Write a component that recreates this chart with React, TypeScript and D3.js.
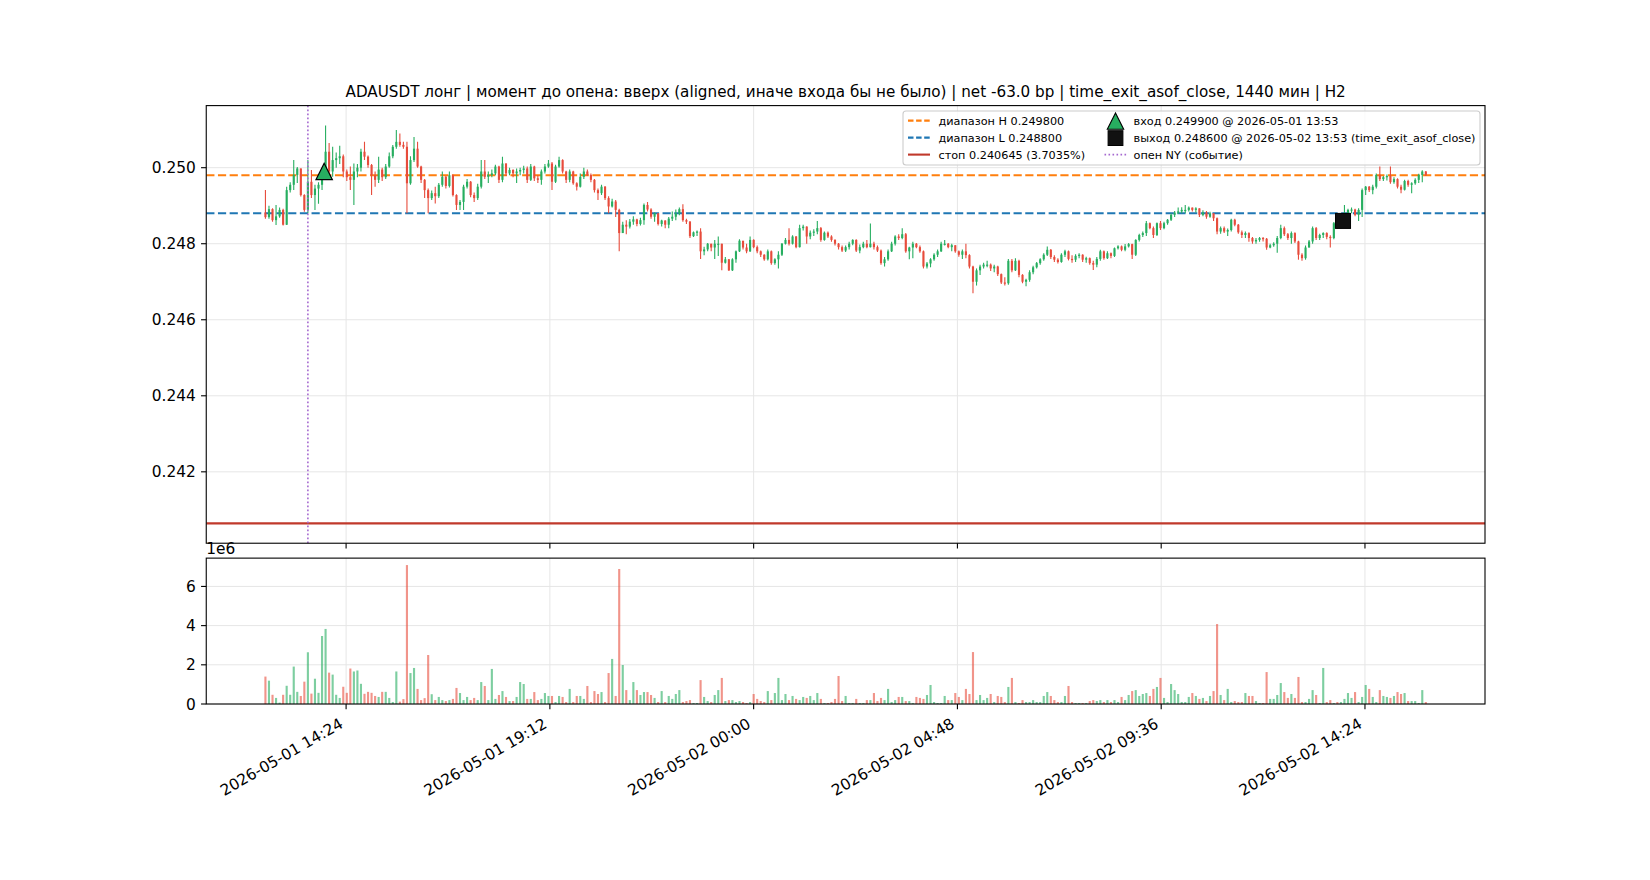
import React from "react";
import * as d3 from "d3";

// ---------- data ----------
const START = "2026-05-01T12:30:00Z";
const STEP_MIN = 5;
const BASE = 0.24; // price = BASE + v * UNIT
const UNIT = 1e-5;
const OPEN0 = 882;

const CLOSE = [
  870,891,862,872,889,850,941,955,981,998,
  928,889,963,928,945,955,990,1042,990,1020,
  1025,1030,990,975,968,990,1000,1042,1029,1007,
  980,968,995,975,1003,1030,1055,1068,1060,1055,
  959,1020,1050,1003,968,941,920,933,925,955,
  976,952,980,928,902,910,950,963,928,920,
  950,990,976,981,985,1003,968,1011,985,994,
  985,990,994,998,968,1003,972,968,990,1003,
  1011,963,1003,1020,990,968,990,959,950,976,
  990,981,968,941,933,950,920,898,911,889,
  828,850,845,858,864,852,862,902,890,871,
  880,852,861,850,866,871,880,891,862,858,
  820,830,832,780,785,800,790,800,800,750,
  759,730,759,780,808,790,780,810,791,780,
  771,759,780,749,759,771,800,810,800,819,
  791,841,845,819,829,832,841,810,829,819,
  810,800,791,782,791,800,810,782,791,800,
  791,800,791,782,749,759,780,800,819,815,
  825,780,790,800,791,780,740,748,759,771,
  780,800,800,791,796,780,771,780,770,740,
  700,730,740,745,745,735,740,720,698,696,
  755,730,755,718,700,705,725,738,749,759,
  771,784,765,758,752,771,780,760,758,768,
  771,758,762,749,745,760,780,762,775,768,
  788,793,784,793,799,771,810,823,828,854,
  841,823,854,841,854,863,876,882,885,889,
  889,895,889,893,876,882,871,880,867,832,
  841,832,836,863,850,830,823,828,815,806,
  810,815,813,790,796,800,815,841,825,815,
  828,806,771,762,790,806,841,815,823,828,
  818,815,854,845,871,880,889,890,876,889,
  941,950,941,950,981,970,975,978,962,970,
  950,942,965,955,959,968,981,990,981,
];

const HIGH = [
  941,900,893,902,895,892,950,962,1020,1002,
  998,930,1020,994,955,962,995,1111,1065,1055,
  1040,1058,1035,995,1003,1011,1010,1050,1068,1032,
  1010,990,1029,1000,1010,1040,1060,1099,1090,1068,
  1068,1030,1081,1068,1005,970,945,940,950,960,
  990,978,990,982,930,915,955,970,965,935,
  958,1020,1020,990,995,1008,1005,1029,1012,1000,
  996,998,1000,1005,1003,1010,1005,980,995,1010,
  1020,1015,1008,1029,1022,992,995,992,962,985,
  1000,995,985,970,945,955,952,925,918,915,
  892,858,862,865,872,866,868,906,910,893,
  882,880,863,862,870,885,890,895,904,866,
  860,832,835,841,792,802,800,810,819,800,
  765,760,762,782,812,806,800,819,812,795,
  782,772,785,782,762,780,802,815,841,822,
  820,850,850,846,835,838,860,844,832,832,
  822,812,802,795,795,805,812,812,798,805,
  810,853,805,795,785,765,785,805,822,825,
  841,828,792,805,802,795,782,752,762,775,
  785,805,810,802,800,796,782,785,800,772,
  742,735,745,750,755,748,745,742,722,712,
  760,760,762,758,720,708,730,742,752,762,
  775,793,786,770,762,775,784,782,770,772,
  775,772,766,764,755,765,784,782,780,777,
  790,796,795,799,802,800,812,826,832,860,
  856,845,856,860,858,865,880,886,895,896,
  902,898,895,896,893,888,886,884,880,869,
  845,845,840,866,866,852,835,832,830,818,
  815,818,818,815,800,804,820,850,845,828,
  832,830,808,775,795,810,845,844,826,830,
  830,822,857,858,874,902,892,895,892,893,
  945,952,952,955,985,1003,978,982,1003,975,
  972,955,968,968,962,972,984,993,991,
];

const LOW = [
  866,866,858,849,868,848,849,935,941,960,
  924,884,880,920,889,905,941,985,980,976,
  1000,1010,975,965,941,902,975,990,1020,1000,
  928,950,960,965,970,1000,1025,1050,1055,1050,
  880,955,1015,1000,960,920,880,915,906,920,
  950,945,948,924,889,889,889,945,922,910,
  915,945,970,960,975,980,960,962,978,980,
  975,960,980,985,960,965,965,960,955,985,
  1000,941,960,1000,985,960,962,955,940,948,
  970,978,962,935,915,928,915,880,895,870,
  780,830,825,840,850,846,848,850,885,866,
  858,848,845,841,841,860,862,875,858,852,
  815,818,820,760,770,780,780,760,768,730,
  748,728,728,750,778,785,775,778,788,775,
  765,755,756,745,745,735,768,798,795,798,
  788,790,835,800,812,820,825,805,808,815,
  805,795,785,778,778,785,796,778,775,788,
  788,790,785,778,745,740,755,778,795,810,
  812,776,759,762,788,776,735,735,738,755,
  765,778,795,788,780,776,766,760,762,735,
  670,690,718,735,738,728,725,715,694,690,
  692,725,728,712,696,688,700,720,735,745,
  755,768,760,752,748,750,765,756,750,752,
  762,752,750,745,731,738,755,758,760,762,
  765,785,780,780,790,760,768,806,818,820,
  838,815,820,836,838,850,860,870,878,880,
  880,885,885,882,870,872,866,868,860,825,
  826,828,820,832,846,826,815,815,805,800,
  800,805,806,784,788,792,776,812,820,810,
  800,802,758,755,758,790,800,810,810,815,
  812,790,812,840,840,860,870,880,872,860,
  870,928,936,930,945,965,965,966,958,958,
  945,933,940,950,933,955,960,962,978,
];

// volume in millions
const VOLUME = [
  1.40,1.19,0.47,0.31,0.07,0.47,0.93,0.47,1.91,0.62,
  0.41,1.14,2.64,0.53,1.29,0.57,3.47,3.83,1.60,1.50,
  0.47,0.31,0.88,0.57,1.81,1.66,1.71,1.03,0.52,0.62,
  0.57,0.41,0.36,0.62,0.62,0.31,0.10,1.66,0.12,0.25,
  7.09,1.58,1.84,0.77,0.20,0.30,2.50,0.50,0.20,0.36,
  0.20,0.15,0.20,0.26,0.82,0.56,0.20,0.36,0.20,0.31,
  0.20,1.12,0.92,0.20,1.79,0.26,0.46,0.66,0.36,0.15,
  0.15,0.36,1.12,1.02,0.26,0.26,0.61,0.20,0.26,0.56,
  0.41,0.41,0.10,0.41,0.36,0.10,0.77,0.10,0.41,0.41,
  0.26,0.92,0.10,0.66,0.51,0.61,0.10,1.58,2.30,0.41,
  6.89,1.99,0.71,0.20,1.12,0.71,0.46,0.61,0.61,0.46,
  0.31,0.10,0.66,0.10,0.41,0.26,0.51,0.71,0.10,0.15,
  0.20,0.05,0.05,1.22,0.36,0.15,0.10,0.46,0.71,1.33,
  0.15,0.20,0.20,0.10,0.15,0.10,0.05,0.10,0.51,0.26,
  0.15,0.10,0.66,0.20,0.56,1.33,0.20,0.51,0.20,0.41,
  0.26,0.20,0.36,0.31,0.41,0.20,0.56,0.26,0.05,0.05,
  0.10,0.26,1.43,0.15,0.41,0.05,0.05,0.26,0.05,0.05,
  0.20,0.20,0.56,0.15,0.31,0.20,0.77,0.10,0.20,0.36,
  0.36,0.15,0.15,0.05,0.36,0.31,0.26,0.46,0.97,0.10,
  0.05,0.05,0.41,0.20,0.20,0.56,0.36,0.20,0.77,0.51,
  2.65,0.20,0.46,0.20,0.31,0.51,0.10,0.41,0.36,0.10,
  0.87,1.33,0.10,0.05,0.20,0.10,0.10,0.20,0.10,0.10,
  0.41,0.61,0.41,0.20,0.10,0.10,0.41,0.92,0.10,0.05,
  0.05,0.05,0.05,0.15,0.20,0.15,0.20,0.10,0.20,0.10,
  0.20,0.10,0.36,0.20,0.46,0.66,0.71,0.41,0.51,0.56,
  0.41,0.77,0.87,1.33,0.31,0.10,1.02,0.71,0.51,0.10,
  0.10,0.36,0.56,0.41,0.26,0.31,0.15,0.41,0.66,4.08,
  0.46,0.20,0.77,0.10,0.15,0.10,0.10,0.56,0.41,0.41,
  0.15,0.05,0.05,1.63,0.26,0.26,0.46,1.07,0.61,0.31,
  0.51,0.31,1.38,0.10,0.10,0.26,0.71,0.46,0.05,1.84,
  0.10,0.20,0.05,0.10,0.10,0.26,0.56,0.31,0.61,0.10,
  0.36,0.97,0.77,0.36,0.10,0.71,0.41,0.36,0.31,0.41,
  0.61,0.51,0.56,0.15,0.15,0.15,0.05,0.71,0.10,
];

const X_TICKS = [
  "2026-05-01T14:24:00Z",
  "2026-05-01T19:12:00Z",
  "2026-05-02T00:00:00Z",
  "2026-05-02T04:48:00Z",
  "2026-05-02T09:36:00Z",
  "2026-05-02T14:24:00Z",
];
const Y_TICKS = [0.242, 0.244, 0.246, 0.248, 0.25];
const VOL_TICKS = [0, 2, 4, 6];

const LEVEL_H = 0.2498;
const LEVEL_L = 0.2488;
const STOP = 0.240645;
const ENTRY_T = "2026-05-01T13:53:00Z";
const ENTRY_P = 0.2499;
const EXIT_T = "2026-05-02T13:53:00Z";
const EXIT_P = 0.2486;
const NY_OPEN_T = "2026-05-01T13:30:00Z";

const TITLE =
  "ADAUSDT лонг | момент до опена: вверх (aligned, иначе входа бы не было) | net -63.0 bp | time_exit_asof_close, 1440 мин | H2";

const LEGEND_LEFT = [
  { label: "диапазон H 0.249800", kind: "dash", color: "#ff7f0e" },
  { label: "диапазон L 0.248800", kind: "dash", color: "#1f77b4" },
  { label: "стоп 0.240645 (3.7035%)", kind: "solid", color: "#c0392b" },
];
const LEGEND_RIGHT = [
  { label: "вход 0.249900 @ 2026-05-01 13:53", kind: "tri", color: "#27ae60" },
  { label: "выход 0.248600 @ 2026-05-02 13:53 (time_exit_asof_close)", kind: "sq", color: "#111111" },
  { label: "опен NY (событие)", kind: "dot", color: "#a569d0" },
];

// ---------- styles ----------
const UP = "#27ae60";
const DOWN = "#e74c3c";
const FONT = "DejaVu Sans, sans-serif";
const GRID = "#e6e6e6";

export default function App() {
  const W = 1650, H = 880;
  const L = 206.25, R = 1485;
  const T1 = 105.6, B2 = 704;
  const gap = 14.9;
  const mainH = (B2 - T1 - gap) * 0.75;
  const B1 = T1 + mainH;
  const T2 = B1 + gap;

  const stepMs = STEP_MIN * 60000;
  const t0 = new Date(START).getTime();
  const price = (v: number) => BASE + v * UNIT;

  const candles = CLOSE.map((c, i) => {
    const o = i === 0 ? OPEN0 : CLOSE[i - 1];
    return {
      t: new Date(t0 + i * stepMs),
      o: price(o),
      c: price(c),
      h: price(HIGH[i]),
      l: price(LOW[i]),
      v: VOLUME[i],
      up: c >= o,
    };
  });

  const n = candles.length;
  const barW = 0.6 * stepMs;
  const span = (n - 1) * stepMs + barW;
  const pad = 0.05 * span + barW / 2;
  const x = d3
    .scaleUtc()
    .domain([new Date(t0 - pad), new Date(t0 + (n - 1) * stepMs + pad)])
    .range([L, R]);

  const lo = Math.min(STOP, d3.min(candles, (d) => d.l) as number);
  const hi = d3.max(candles, (d) => d.h) as number;
  const r = hi - lo;
  const y = d3.scaleLinear().domain([lo - 0.05 * r, hi + 0.05 * r]).range([B1, T1]);

  const vmax = d3.max(candles, (d) => d.v) as number;
  const yv = d3.scaleLinear().domain([0, vmax * 1.05]).range([B2, T2]);

  const bw = x(new Date(t0 + barW)) - x(new Date(t0));
  const fmtX = d3.utcFormat("%Y-%m-%d %H:%M");
  const fmtY = d3.format(".3f");
  const xTicks = X_TICKS.map((s) => new Date(s));

  const tickLen = 5.2;
  const tickPad = 5.2;
  const fs = 15.4;
  const tfs = 15.2;
  const lfs = 11.25;

  const tri = (cx: number, cy: number, s: number) =>
    `M${cx},${cy - s} L${cx - s},${cy + s} L${cx + s},${cy + s} Z`;

  // legend layout
  const lgX0 = 903, lgY0 = 111, lgX1 = 1480, lgY1 = 165;
  const rows = [120.6, 137.6, 154.6];
  const c1h0 = 908, c1h1 = 930, c1t = 938.5;
  const c2m = 1115.5, c2t = 1133.5;

  return (
    <svg
      width={W}
      height={H}
      viewBox={`0 0 ${W} ${H}`}
      style={{ position: "absolute", left: 0, top: 0, background: "#fff" }}
      fontFamily={FONT}
    >
      <rect x={0} y={0} width={W} height={H} fill="#fff" />
      <defs>
        <clipPath id="clipMain">
          <rect x={L} y={T1} width={R - L} height={B1 - T1} />
        </clipPath>
        <clipPath id="clipVol">
          <rect x={L} y={T2} width={R - L} height={B2 - T2} />
        </clipPath>
      </defs>

      {/* title */}
      <text x={(L + R) / 2} y={T1 - 8.9} textAnchor="middle" fontSize={tfs} fill="#000">
        {TITLE}
      </text>

      {/* ---------- main axes ---------- */}
      <g>
        {Y_TICKS.map((t) => (
          <line key={"gy" + t} x1={L} x2={R} y1={y(t)} y2={y(t)} stroke={GRID} strokeWidth={1} />
        ))}
        {xTicks.map((t, i) => (
          <line key={"gx" + i} x1={x(t)} x2={x(t)} y1={T1} y2={B1} stroke={GRID} strokeWidth={1} />
        ))}
      </g>
      <g clipPath="url(#clipMain)">
        <line x1={L} x2={R} y1={y(LEVEL_H)} y2={y(LEVEL_H)} stroke="#ff7f0e" strokeWidth={2.1} strokeDasharray="8.2 3.5" />
        <line x1={L} x2={R} y1={y(LEVEL_L)} y2={y(LEVEL_L)} stroke="#1f77b4" strokeWidth={2.1} strokeDasharray="8.2 3.5" />
        <line x1={L} x2={R} y1={y(STOP)} y2={y(STOP)} stroke="#c0392b" strokeWidth={2.1} />
        {candles.map((d, i) => {
          const cx = x(d.t);
          const col = d.up ? UP : DOWN;
          const top = y(Math.max(d.o, d.c));
          const bot = y(Math.min(d.o, d.c));
          return (
            <g key={"c" + i}>
              <line x1={cx} x2={cx} y1={y(d.h)} y2={y(d.l)} stroke={col} strokeWidth={1.1} />
              <rect x={cx - bw / 2} y={top} width={bw} height={Math.max(bot - top, 1.2)} fill={col} />
            </g>
          );
        })}
        <line
          x1={x(new Date(NY_OPEN_T))}
          x2={x(new Date(NY_OPEN_T))}
          y1={T1}
          y2={B1}
          stroke="#a569d0"
          strokeWidth={1.6}
          strokeDasharray="1.6 2.4"
        />
        <path d={tri(x(new Date(ENTRY_T)), y(ENTRY_P), 8.2)} fill={UP} stroke="#000" strokeWidth={1.2} />
        <rect
          x={x(new Date(EXIT_T)) - 7.5}
          y={y(EXIT_P) - 7.5}
          width={15}
          height={15}
          fill="#111111"
          stroke="#000"
          strokeWidth={1}
        />
      </g>
      {/* main spines & ticks */}
      <rect x={L} y={T1} width={R - L} height={B1 - T1} fill="none" stroke="#000" strokeWidth={1.1} />
      {Y_TICKS.map((t) => (
        <g key={"yt" + t}>
          <line x1={L - tickLen} x2={L} y1={y(t)} y2={y(t)} stroke="#000" strokeWidth={1.1} />
          <text x={L - tickLen - tickPad} y={y(t)} dy="0.36em" textAnchor="end" fontSize={fs} fill="#000">
            {fmtY(t)}
          </text>
        </g>
      ))}
      {xTicks.map((t, i) => (
        <line key={"xt1" + i} x1={x(t)} x2={x(t)} y1={B1} y2={B1 + tickLen} stroke="#000" strokeWidth={1.1} />
      ))}

      {/* legend */}
      <g>
        <rect x={lgX0} y={lgY0} width={lgX1 - lgX0} height={lgY1 - lgY0} rx={3} fill="#fff" fillOpacity={0.8} stroke="#cccccc" strokeWidth={1.1} />
        {LEGEND_LEFT.map((e, i) => (
          <g key={"ll" + i}>
            <line
              x1={c1h0}
              x2={c1h1}
              y1={rows[i]}
              y2={rows[i]}
              stroke={e.color}
              strokeWidth={2.1}
              strokeDasharray={e.kind === "dash" ? "5.5 2.6" : undefined}
            />
            <text x={c1t} y={rows[i]} dy="0.36em" fontSize={lfs} fill="#000">
              {e.label}
            </text>
          </g>
        ))}
        {LEGEND_RIGHT.map((e, i) => (
          <g key={"lr" + i}>
            {e.kind === "tri" && <path d={tri(c2m, rows[i] + 0.5, 8.2)} fill={e.color} stroke="#000" strokeWidth={1.1} />}
            {e.kind === "sq" && (
              <rect x={c2m - 7.4} y={rows[i] - 7.4 + 0.5} width={14.8} height={14.8} fill={e.color} stroke="#000" strokeWidth={1} />
            )}
            {e.kind === "dot" && (
              <line x1={c2m - 11} x2={c2m + 11} y1={rows[i]} y2={rows[i]} stroke={e.color} strokeWidth={1.6} strokeDasharray="1.6 2.4" />
            )}
            <text x={c2t} y={rows[i]} dy="0.36em" fontSize={lfs} fill="#000">
              {e.label}
            </text>
          </g>
        ))}
      </g>

      {/* ---------- volume axes ---------- */}
      <g>
        {VOL_TICKS.map((t) => (
          <line key={"gv" + t} x1={L} x2={R} y1={yv(t)} y2={yv(t)} stroke={GRID} strokeWidth={1} />
        ))}
        {xTicks.map((t, i) => (
          <line key={"gvx" + i} x1={x(t)} x2={x(t)} y1={T2} y2={B2} stroke={GRID} strokeWidth={1} />
        ))}
      </g>
      <g clipPath="url(#clipVol)">
        {candles.map((d, i) => {
          const cx = x(d.t);
          return (
            <rect
              key={"v" + i}
              x={cx - bw / 2}
              y={yv(d.v)}
              width={bw}
              height={B2 - yv(d.v)}
              fill={d.up ? UP : DOWN}
              fillOpacity={0.6}
            />
          );
        })}
      </g>
      <rect x={L} y={T2} width={R - L} height={B2 - T2} fill="none" stroke="#000" strokeWidth={1.1} />
      {VOL_TICKS.map((t) => (
        <g key={"vt" + t}>
          <line x1={L - tickLen} x2={L} y1={yv(t)} y2={yv(t)} stroke="#000" strokeWidth={1.1} />
          <text x={L - tickLen - tickPad} y={yv(t)} dy="0.36em" textAnchor="end" fontSize={fs} fill="#000">
            {t}
          </text>
        </g>
      ))}
      <text x={L} y={T2 - 3.8} fontSize={fs} fill="#000">
        1e6
      </text>
      {xTicks.map((t, i) => {
        const tx = x(t);
        const by = B2 + tickLen + tickPad + fs * 1.164 * Math.cos(Math.PI / 6);
        return (
          <g key={"xt2" + i}>
            <line x1={tx} x2={tx} y1={B2} y2={B2 + tickLen} stroke="#000" strokeWidth={1.1} />
            <g transform={`translate(${tx},${by}) rotate(-30)`}>
              <text x={0} y={-fs * 0.236} textAnchor="end" fontSize={fs} fill="#000">
                {fmtX(t)}
              </text>
            </g>
          </g>
        );
      })}
    </svg>
  );
}
